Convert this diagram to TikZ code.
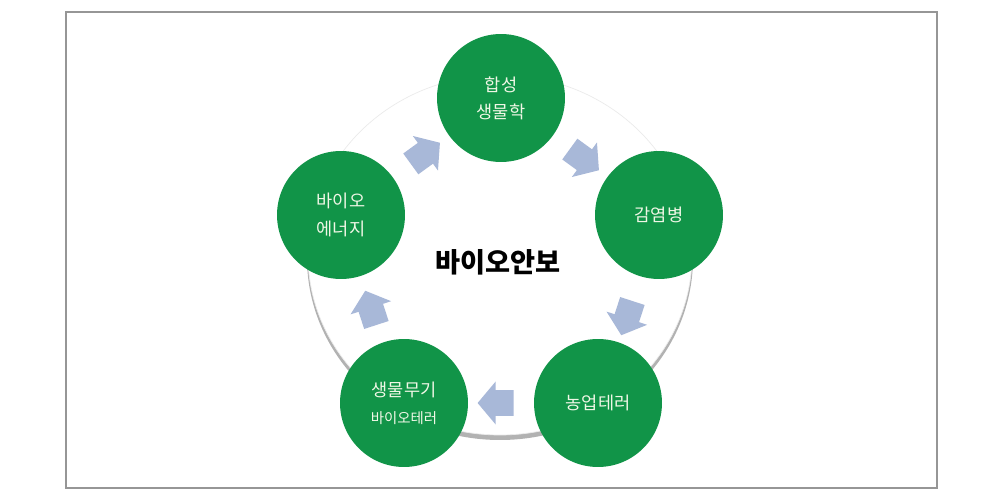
\documentclass[tikz,border=0pt]{standalone}
\usepackage{fontspec}
\newfontfamily\kr{Noto Sans CJK KR}
\usetikzlibrary{shapes.arrows,calc}
\definecolor{circgreen}{RGB}{17,148,72}
\definecolor{circtext}{RGB}{240,247,230}
\definecolor{arrowblue}{RGB}{168,184,216}
\definecolor{frameline}{RGB}{150,150,150}
\tikzset{
  topic/.style={circle, fill=circgreen, minimum size=2.56cm, inner sep=0pt,
    align=center, text=circtext, font={\kr\fontsize{10}{15.5}\selectfont}},
  flowarrow/.style={single arrow, fill=arrowblue, draw=none, inner xsep=0pt,
    inner ysep=0.25cm, minimum height=0.72cm, minimum width=0.84cm,
    single arrow head extend=0.17cm, single arrow tip angle=100},
}
\begin{document}
\begin{tikzpicture}[x=0.02cm, y=0.02cm]
  \useasboundingbox (0,0) rectangle (991,497);
  \draw[frameline, line width=1.2pt] (66,9) rectangle (937,485);
  % ring behind the topics
  \fill[black!30] (500,239) ellipse [x radius=193, y radius=182];
  \fill[white, draw=black!8] (500,242) ellipse [x radius=192, y radius=180];
  \node[font={\kr\bfseries\fontsize{15.5}{18}\selectfont}] (biosecurity) at (498,235) {바이오안보};
  \node[topic] (synbio) at (501,399) {합성\\생물학};
  \node[topic] (disease) at (659,282) {감염병};
  \node[topic] (agroterror) at (598,94) {농업테러};
  \node[topic] (bioweapon) at (404,94) {생물무기\\{\fontsize{8.2}{10}\selectfont 바이오테러}};
  \node[topic] (bioenergy) at (341,282) {바이오\\에너지};
  \node[flowarrow, rotate=-36] (a1) at ($(synbio)!0.5!(disease)$) {};
  \node[flowarrow, rotate=-108] (a2) at ($(disease)!0.5!(agroterror)+(0,-4)$) {};
  \node[flowarrow, rotate=180] (a3) at ($(agroterror)!0.5!(bioweapon)$) {};
  \node[flowarrow, rotate=108] (a4) at ($(bioweapon)!0.5!(bioenergy)+(0,-4)$) {};
  \node[flowarrow, rotate=36] (a5) at ($(bioenergy)!0.5!(synbio)$) {};
\end{tikzpicture}
\end{document}
